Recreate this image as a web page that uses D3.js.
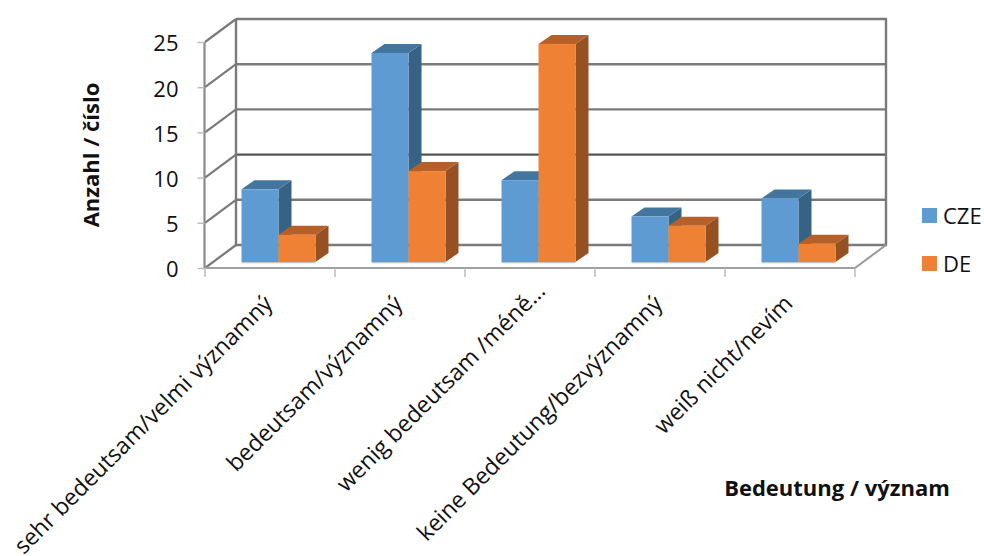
<!DOCTYPE html>
<html><head><meta charset="utf-8">
<script src="https://cdn.jsdelivr.net/npm/d3@7/dist/d3.min.js"></script>
<style>html,body{margin:0;padding:0;background:#fff}svg{display:block}</style>
</head><body><svg id="c" width="984" height="556"></svg>
<script>
const categories = ["sehr bedeutsam/velmi významný","bedeutsam/významný","wenig bedeutsam /méně…","keine Bedeutung/bezvýznamný","weiß nicht/nevím"];
const cze = [8,23,9,5,7];
const de = [3,10,24,4,2];
const yTicks = [0,5,10,15,20,25];
const seriesNames = ["CZE","DE"];
const FONT = "'Open Sans',sans-serif";
const svg = d3.select("#c");
const x = d3.scaleBand().domain(categories).range([205,855]);
const y = d3.scaleLinear().domain([0,25]).range([268,42]);
const dx = 31, dy = -23;            // full chart depth
const by = d3.scaleLinear().domain([0,25]).range([262,34.8]); // bar baseline plane
const bw = 37, bdx = 13, bdy = -9;
const grid = "#7a7a7a";
const g = svg.append("g");
// gridlines on the back wall and side wall
yTicks.forEach(t=>{
  g.append("line").attr("x1",x.range()[0]+dx).attr("x2",x.range()[1]+dx+1).attr("y1",y(t)+dy).attr("y2",y(t)+dy)
    .attr("stroke",t===10?"#555":grid).attr("stroke-width",2.4);
  g.append("line").attr("x1",x.range()[0]).attr("x2",x.range()[0]+dx).attr("y1",y(t)).attr("y2",y(t)+dy)
    .attr("stroke",grid).attr("stroke-width",2.2);
});
g.append("line").attr("x1",205+dx).attr("x2",205+dx).attr("y1",y(25)+dy).attr("y2",y(0)+dy).attr("stroke",grid).attr("stroke-width",2.4);
g.append("line").attr("x1",855+dx).attr("x2",855+dx).attr("y1",y(25)+dy).attr("y2",y(0)+dy).attr("stroke",grid).attr("stroke-width",2.4);
// floor edges
g.append("line").attr("x1",855).attr("x2",855+dx).attr("y1",y(0)).attr("y2",y(0)+dy).attr("stroke","#999").attr("stroke-width",2);
// y axis
const ya = d3.axisLeft(y).tickValues(yTicks).tickSize(7).tickPadding(19);
const yg = svg.append("g").attr("transform","translate(204.5,0)").call(ya);
yg.select(".domain").attr("stroke","#8a8a8a").attr("stroke-width",2.2).attr("d","M0,42V268");
yg.selectAll(".tick line").attr("stroke","#bbb").attr("stroke-width",1.5);
yg.selectAll("text").attr("fill","#111").attr("dy","0.4em").style("font-family",FONT).style("font-size","22px");
// x axis
const xa = d3.axisBottom(x).tickSize(0).tickFormat("");
const xg = svg.append("g").attr("transform","translate(0,268)").call(xa);
xg.select(".domain").attr("stroke","#a0a0a0").attr("stroke-width",2).attr("d","M205,0H855");
const bounds = categories.map(c=>x(c)).concat([x.range()[1]]);
xg.selectAll(".bt").data(bounds).join("line").attr("class","bt").attr("x1",d=>d).attr("x2",d=>d).attr("y1",0).attr("y2",9).attr("stroke","#bbb").attr("stroke-width",1.5);
// bars
const pal = {
  CZE:{f:"#5e9bd2",t:"#42769f",s:"#366283"},
  DE:{f:"#ee8133",t:"#b65f28",s:"#955122"}
};
const poly=(sel,pts,fill)=>sel.append("polygon").attr("points",pts.map(p=>p.join(",")).join(" ")).attr("fill",fill);
const barG = svg.append("g");
categories.forEach((c,i)=>{
  [["CZE",cze[i],36.5],["DE",de[i],73.5]].forEach(([n,v,off])=>{
    const x0=x(c)+off, x1=x0+bw, yt=by(v), yb=by(0), col=pal[n];
    const b=barG.append("g");
    poly(b,[[x1,yb],[x1+bdx,yb+bdy],[x1+bdx,yt+bdy],[x1,yt]],col.s);
    poly(b,[[x0,yt],[x0+bdx,yt+bdy],[x1+bdx,yt+bdy],[x1,yt]],col.t);
    b.append("rect").attr("x",x0).attr("y",yt).attr("width",bw).attr("height",yb-yt).attr("fill",col.f);
    b.append("line").attr("x1",x0).attr("x2",x1).attr("y1",yb+.7).attr("y2",yb+.7).attr("stroke","#c4c4c4").attr("stroke-width",1.2);
  });
});
// category labels
svg.append("g").selectAll("text").data(categories).join("text")
  .attr("transform",d=>`translate(${x(d)+x.bandwidth()/2+4},305) rotate(-45)`)
  .attr("text-anchor","end").attr("dx",d=>d.endsWith("…")?18:0).attr("fill","#111")
  .style("font-family",FONT).style("font-size","23px").text(d=>d);
// titles
svg.append("text").attr("transform","translate(99,155) rotate(-90)").attr("text-anchor","middle")
  .style("font-family",FONT).style("font-size","22px").style("font-weight","700").attr("fill","#111").text("Anzahl / číslo");
svg.append("text").attr("x",837).attr("y",496).attr("text-anchor","middle")
  .style("font-family",FONT).style("font-size","22px").style("font-weight","700").attr("fill","#111").text("Bedeutung / význam");
// legend
const ly = d3.scalePoint().domain(seriesNames).range([215.5,263.5]);
const lg = svg.append("g").selectAll("g").data(seriesNames).join("g").attr("transform",d=>`translate(922,${ly(d)})`);
lg.append("rect").attr("x",0).attr("y",-7.5).attr("width",15).attr("height",15).attr("fill",d=>pal[d].f);
lg.append("text").attr("x",21).attr("y",8).attr("fill","#111").style("font-family",FONT).style("font-size","22px").text(d=>d);
</script></body></html>
